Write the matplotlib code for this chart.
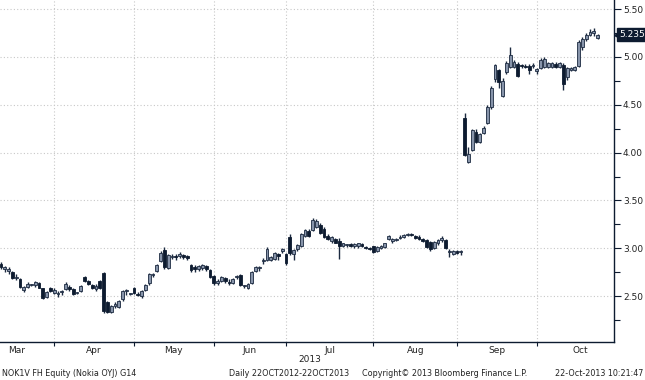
import matplotlib
matplotlib.use("Agg")
import matplotlib.pyplot as plt
import numpy as np
from matplotlib.ticker import FixedLocator, NullFormatter, FixedFormatter, MultipleLocator, FormatStrFormatter
import matplotlib.transforms as mtrans

# ---- data (trading-day index 0 = 11 Mar 2013) ----
opens = [2.84, 2.78, 2.76, 2.75, 2.69, 2.68, 2.56, 2.59, 2.62, 2.62,
         2.64, 2.58, 2.49, 2.58, 2.53, 2.52, 2.54, 2.57, 2.60, 2.57,
         2.53, 2.55, 2.70, 2.66, 2.62, 2.57, 2.66, 2.74, 2.44, 2.33,
         2.40, 2.39, 2.47, 2.55, 2.52, 2.58, 2.52, 2.50, 2.56, 2.64,
         2.72, 2.76, 2.87, 2.98, 2.79, 2.91, 2.92, 2.92, 2.93, 2.92,
         2.83, 2.80, 2.78, 2.79, 2.81, 2.77, 2.71, 2.64, 2.66, 2.69,
         2.65, 2.64, 2.70, 2.72, 2.61, 2.58, 2.64, 2.76, 2.79, 2.87,
         2.88, 2.88, 2.89, 2.94, 2.97, 2.94, 3.12, 2.94, 2.99, 3.02,
         3.13, 3.18, 3.19, 3.22, 3.24, 3.20, 3.13, 3.08, 3.10, 3.08,
         3.02, 3.03, 3.04, 3.02, 3.02, 3.04, 3.01, 3.00, 3.02, 2.97,
         3.00, 3.01, 3.10, 3.08, 3.09, 3.11, 3.12, 3.14, 3.15, 3.13,
         3.12, 3.10, 3.09, 3.07, 3.00, 3.05, 3.09, 3.09, 2.96, 2.94,
         2.97, 2.96, 4.36, 3.90, 4.03, 4.22, 4.11, 4.21, 4.31, 4.48,
         4.77, 4.86, 4.59, 4.84, 4.90, 4.90, 4.93, 4.92, 4.91, 4.91,
         4.91, 4.85, 4.88, 4.90, 4.90, 4.90, 4.93, 4.90, 4.92, 4.79,
         4.86, 4.86, 4.91, 5.10, 5.19, 5.23, 5.25, 5.20]
highs = [2.86, 2.81, 2.80, 2.76, 2.73, 2.69, 2.61, 2.65, 2.63, 2.66,
         2.65, 2.58, 2.55, 2.59, 2.58, 2.55, 2.56, 2.65, 2.62, 2.58,
         2.54, 2.62, 2.71, 2.67, 2.63, 2.63, 2.67, 2.75, 2.45, 2.41,
         2.44, 2.46, 2.56, 2.57, 2.53, 2.59, 2.54, 2.56, 2.63, 2.74,
         2.74, 2.84, 2.97, 3.01, 2.94, 2.94, 2.94, 2.96, 2.94, 2.93,
         2.84, 2.82, 2.82, 2.84, 2.82, 2.78, 2.72, 2.68, 2.71, 2.70,
         2.68, 2.69, 2.72, 2.73, 2.62, 2.64, 2.76, 2.81, 2.81, 2.90,
         3.01, 2.92, 2.96, 2.95, 3.00, 2.95, 3.15, 2.99, 3.04, 3.16,
         3.20, 3.20, 3.32, 3.31, 3.26, 3.22, 3.15, 3.13, 3.11, 3.11,
         3.06, 3.04, 3.05, 3.05, 3.06, 3.05, 3.02, 3.01, 3.02, 3.02,
         3.03, 3.06, 3.14, 3.11, 3.11, 3.14, 3.15, 3.16, 3.16, 3.14,
         3.14, 3.11, 3.10, 3.08, 3.08, 3.10, 3.13, 3.10, 2.99, 2.98,
         2.98, 2.98, 4.41, 4.06, 4.25, 4.25, 4.21, 4.28, 4.50, 4.70,
         4.93, 4.87, 4.78, 4.96, 5.10, 4.97, 4.95, 4.93, 4.93, 4.93,
         4.94, 4.88, 4.99, 5.00, 4.95, 4.95, 4.95, 4.95, 4.94, 4.90,
         4.90, 4.91, 5.18, 5.21, 5.25, 5.29, 5.30, 5.24]
lows = [2.78, 2.75, 2.73, 2.68, 2.67, 2.58, 2.54, 2.58, 2.61, 2.60,
        2.58, 2.47, 2.48, 2.54, 2.52, 2.49, 2.51, 2.56, 2.55, 2.51,
        2.52, 2.54, 2.65, 2.62, 2.57, 2.55, 2.57, 2.32, 2.32, 2.32,
        2.38, 2.38, 2.45, 2.51, 2.51, 2.52, 2.50, 2.48, 2.55, 2.62,
        2.70, 2.75, 2.86, 2.78, 2.78, 2.89, 2.88, 2.90, 2.89, 2.88,
        2.75, 2.75, 2.76, 2.77, 2.76, 2.69, 2.62, 2.62, 2.65, 2.64,
        2.62, 2.63, 2.68, 2.61, 2.58, 2.57, 2.63, 2.75, 2.76, 2.84,
        2.87, 2.87, 2.88, 2.88, 2.95, 2.83, 2.93, 2.88, 2.97, 3.01,
        3.12, 3.12, 3.18, 3.21, 3.15, 3.11, 3.09, 3.06, 3.05, 2.89,
        3.01, 3.01, 3.01, 3.00, 3.00, 3.01, 2.99, 2.98, 2.95, 2.96,
        2.99, 3.00, 3.09, 3.06, 3.08, 3.10, 3.11, 3.13, 3.13, 3.10,
        3.09, 3.07, 3.00, 2.97, 2.99, 3.03, 3.07, 2.99, 2.91, 2.93,
        2.94, 2.93, 3.96, 3.89, 4.02, 4.10, 4.10, 4.20, 4.30, 4.46,
        4.74, 4.68, 4.58, 4.82, 4.88, 4.88, 4.79, 4.88, 4.88, 4.82,
        4.89, 4.82, 4.87, 4.89, 4.88, 4.88, 4.89, 4.88, 4.65, 4.76,
        4.85, 4.85, 4.90, 5.07, 5.17, 5.22, 5.22, 5.19]
closes = [2.80, 2.80, 2.78, 2.69, 2.70, 2.59, 2.60, 2.63, 2.62, 2.65,
          2.58, 2.48, 2.54, 2.55, 2.56, 2.53, 2.55, 2.63, 2.57, 2.52,
          2.53, 2.61, 2.66, 2.63, 2.58, 2.61, 2.58, 2.34, 2.33, 2.40,
          2.42, 2.45, 2.55, 2.56, 2.52, 2.53, 2.51, 2.55, 2.62, 2.73,
          2.73, 2.83, 2.95, 2.80, 2.93, 2.92, 2.91, 2.94, 2.91, 2.90,
          2.77, 2.78, 2.81, 2.82, 2.78, 2.70, 2.64, 2.66, 2.70, 2.66,
          2.64, 2.68, 2.70, 2.62, 2.61, 2.63, 2.75, 2.80, 2.80, 2.87,
          2.99, 2.91, 2.95, 2.92, 2.99, 2.85, 2.95, 2.98, 3.03, 3.15,
          3.19, 3.13, 3.30, 3.29, 3.16, 3.12, 3.10, 3.12, 3.06, 3.02,
          3.05, 3.04, 3.02, 3.04, 3.05, 3.02, 3.00, 2.99, 2.96, 3.01,
          3.02, 3.05, 3.13, 3.10, 3.10, 3.12, 3.14, 3.15, 3.14, 3.11,
          3.10, 3.08, 3.01, 2.99, 3.07, 3.09, 3.11, 3.00, 2.96, 2.97,
          2.95, 2.97, 3.98, 3.99, 4.24, 4.11, 4.20, 4.26, 4.48, 4.68,
          4.92, 4.74, 4.75, 4.94, 5.02, 4.95, 4.80, 4.91, 4.90, 4.86,
          4.92, 4.87, 4.97, 4.98, 4.94, 4.94, 4.90, 4.94, 4.72, 4.88,
          4.89, 4.90, 5.16, 5.19, 5.23, 5.26, 5.27, 5.235]

month_starts = [-6, 14, 35, 56, 75, 98, 120, 141, 164]   # trading-day index of 1st session
month_labels = ["Mar", "Apr", "May", "Jun", "Jul", "Aug", "Sep", "Oct"]
y_major = [2.50, 3.00, 3.50, 4.00, 4.50, 5.00, 5.50]
year_label = "2013"
last_price = closes[-1]

# ---- styling ----
NAVY = "#0d1b30"
UP_FILL = "#8794aa"
EDGE = "#1c2a40"
GRID = "#c8c8c8"

fig = plt.figure(figsize=(6.45, 3.8), dpi=100)
W, H = 645, 380
ax = fig.add_axes([0, 38 / H, 614 / W, 342 / H])

o = np.array(opens); h = np.array(highs); l = np.array(lows); c = np.array(closes)
x = np.arange(len(o))
up = c >= o
bottoms = np.minimum(o, c)
heights = np.maximum(np.abs(c - o), 0.008)

ax.vlines(x, l, h, color=EDGE, linewidth=1.0, zorder=2)
ax.bar(x[up], heights[up], bottom=bottoms[up], width=0.72, color=UP_FILL,
       edgecolor=EDGE, linewidth=0.6, zorder=3)
ax.bar(x[~up], heights[~up], bottom=bottoms[~up], width=0.72, color=NAVY,
       edgecolor=NAVY, linewidth=0.6, zorder=3)

ax.set_xlim(-0.26, 161.3)
ax.set_ylim(2.02, 5.596)

# x axis: ticks at month starts, labels centred in months
ax.xaxis.set_major_locator(FixedLocator(month_starts))
ax.xaxis.set_major_formatter(NullFormatter())
mids = [(month_starts[i] + month_starts[i + 1]) / 2 for i in range(len(month_labels))]
ax.xaxis.set_minor_locator(FixedLocator(mids))
ax.xaxis.set_minor_formatter(FixedFormatter(month_labels))
ax.tick_params(axis="x", which="major", direction="out", length=3, width=0.8, color=NAVY)
ax.tick_params(axis="x", which="minor", length=0, pad=3, labelsize=6.5, labelcolor="#222222")

# y axis on right
ax.yaxis.tick_right()
ax.yaxis.set_major_locator(FixedLocator(y_major))
ax.yaxis.set_major_formatter(FormatStrFormatter("%.2f"))
ax.yaxis.set_minor_locator(MultipleLocator(0.25))
ax.tick_params(axis="y", which="major", direction="out", length=5, width=0.8, color=NAVY,
               labelsize=6.5, labelcolor="#222222", pad=1.5)
ax.tick_params(axis="y", which="minor", direction="out", length=4, width=0.8, color=NAVY)

ax.grid(True, which="major", color=GRID, linestyle=(0, (1, 2)), linewidth=0.8)
ax.set_axisbelow(True)

for s in ["left", "top"]:
    ax.spines[s].set_visible(False)
ax.spines["right"].set_color(NAVY)
ax.spines["right"].set_linewidth(1.0)
ax.spines["bottom"].set_color(NAVY)
ax.spines["bottom"].set_linewidth(1.0)

# last price tag
trans = mtrans.blended_transform_factory(ax.transAxes, ax.transData)
ax.text(1.0 + 5 / 614, last_price, "%.3f" % last_price, transform=trans, ha="left", va="center",
        fontsize=6.5, color="white", clip_on=False,
        bbox=dict(boxstyle="square,pad=0.18", facecolor=NAVY, edgecolor=NAVY))
ax.plot([1.0 + 3.5 / 614], [last_price], marker="<", markersize=5, color=NAVY,
        transform=trans, clip_on=False)

# year and footer
fig.text(310 / W, 1 - 360 / H, year_label, ha="center", va="center", fontsize=6.5, color="#222222")
fy = 1 - 373 / H
fs = 5.8
fig.text(2 / W, fy, "NOK1V FH Equity (Nokia OYJ) G14", ha="left", va="center", fontsize=fs, color="#222222")
fig.text(229 / W, fy, "Daily 22OCT2012-22OCT2013", ha="left", va="center", fontsize=fs, color="#222222")
fig.text(362 / W, fy, "Copyright\u00a9 2013 Bloomberg Finance L.P.", ha="left", va="center", fontsize=fs, color="#222222")
fig.text(643 / W, fy, "22-Oct-2013 10:21:47", ha="right", va="center", fontsize=fs, color="#222222")

fig.savefig("out.png", dpi=100, facecolor="white")
